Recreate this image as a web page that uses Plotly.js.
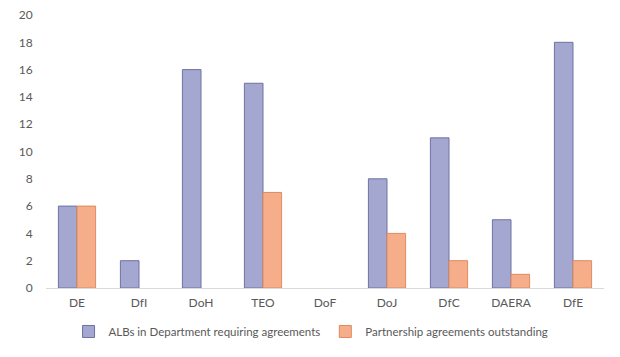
<!DOCTYPE html>
<html>
<head>
<meta charset="utf-8">
<script src="https://cdn.plot.ly/plotly-3.0.1.min.js"></script>
<style>html,body{margin:0;padding:0;background:#fff;}#chart{width:620px;height:357px;}</style>
</head>
<body>
<div id="chart"></div>
<script>
const departments = ["DE", "DfI", "DoH", "TEO", "DoF", "DoJ", "DfC", "DAERA", "DfE"];
const albsRequiring = [6, 2, 16, 15, 0, 8, 11, 5, 18];
const agreementsOutstanding = [6, 0, 0, 7, 0, 4, 2, 1, 2];
const seriesNames = ["ALBs in Department requiring agreements", "Partnership agreements outstanding"];
const yTicks = [0, 2, 4, 6, 8, 10, 12, 14, 16, 18, 20];

const font = {family: "Lato, 'Open Sans', sans-serif", size: 12, color: "#595959"};
const legendFont = {family: "Lato, 'Open Sans', sans-serif", size: 11.5, color: "#595959"};
// zero-height bars are not drawn in the reference (no outline at the baseline)
const hideZero = arr => arr.map(v => (v === 0 ? null : v));

const traces = [
  {
    type: "bar", name: seriesNames[0], x: departments, y: hideZero(albsRequiring),
    marker: {color: "#a4a7cf", line: {color: "#6e72a3", width: 1}}
  },
  {
    type: "bar", name: seriesNames[1], x: departments, y: hideZero(agreementsOutstanding),
    marker: {color: "#f5ad8a", line: {color: "#e08a5e", width: 1}}
  }
];

const layout = {
  width: 620, height: 357,
  margin: {l: 46, r: 16, t: 15, b: 68},
  paper_bgcolor: "#ffffff", plot_bgcolor: "#ffffff",
  font: font,
  barmode: "group", bargap: 0.4, bargroupgap: 0,
  showlegend: true,
  legend: {orientation: "h", x: 0.475, xanchor: "center", y: -0.155, yanchor: "middle",
           font: legendFont, itemclick: false},
  xaxis: {
    type: "category", showgrid: false, showline: true, linecolor: "#d9d9d9", linewidth: 1,
    ticks: "outside", ticklen: 4, tickcolor: "rgba(0,0,0,0)", tickfont: font, zeroline: false
  },
  yaxis: {
    range: [0, 20], tickvals: yTicks, showgrid: false, showline: false, zeroline: false,
    ticks: "outside", ticklen: 10, tickcolor: "rgba(0,0,0,0)", tickfont: font
  }
};

Plotly.newPlot("chart", traces, layout, {displayModeBar: false, staticPlot: true});
</script>
</body>
</html>
